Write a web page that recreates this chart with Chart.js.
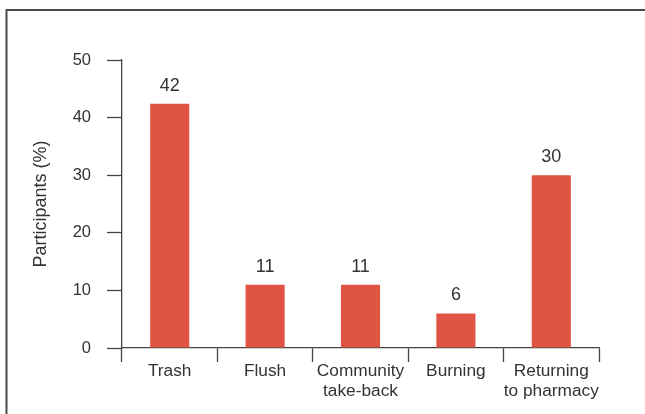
<!DOCTYPE html>
<html>
<head>
<meta charset="utf-8">
<script src="https://cdn.jsdelivr.net/npm/chart.js@4.4.1/dist/chart.umd.min.js"></script>
<style>
  html, body { margin: 0; padding: 0; background: #fff; overflow: hidden; }
  #wrap { position: relative; width: 645px; height: 414px; }
</style>
</head>
<body>
<div id="wrap"><canvas id="chart"></canvas></div>
<script>
const categories = ['Trash', 'Flush', ['Community', 'take-back'], 'Burning', ['Returning', 'to pharmacy']];
const participants = [42.4, 11, 11, 6, 30];
const yTicks = [0, 10, 20, 30, 40, 50];

const textColor = '#333';
const lineColor = '#444';
const font = 'Liberation Sans, Arial, Helvetica, sans-serif';

// frame along the top and left edge
const framePlugin = {
  id: 'frame',
  beforeDraw(chart) {
    const ctx = chart.ctx;
    ctx.save();
    ctx.strokeStyle = '#4a4a4a';
    ctx.lineWidth = 2;
    ctx.beginPath();
    ctx.moveTo(6.5, chart.height);
    ctx.lineTo(6.5, 10);
    ctx.lineTo(chart.width, 10);
    ctx.stroke();
    ctx.restore();
  }
};

// value labels above each bar
const valueLabels = {
  id: 'valueLabels',
  afterDatasetsDraw(chart) {
    const ctx = chart.ctx;
    const meta = chart.getDatasetMeta(0);
    ctx.save();
    ctx.fillStyle = textColor;
    ctx.font = '18px ' + font;
    ctx.textAlign = 'center';
    ctx.textBaseline = 'alphabetic';
    meta.data.forEach((bar, i) => {
      ctx.fillText(String(Math.round(participants[i])), bar.x, bar.y - 13);
    });
    ctx.restore();
  }
};

new Chart(document.getElementById('chart'), {
  type: 'bar',
  data: {
    labels: categories,
    datasets: [{
      data: participants,
      backgroundColor: '#e05444',
      borderWidth: 0,
      categoryPercentage: 1,
      barPercentage: 0.41
    }]
  },
  plugins: [framePlugin, valueLabels],
  options: {
    responsive: true,
    maintainAspectRatio: false,
    animation: false,
    layout: { padding: { left: 20, right: 46, top: 60, bottom: 0 } },
    plugins: {
      legend: { display: false },
      tooltip: { enabled: false }
    },
    scales: {
      x: {
        grid: {
          display: true,
          offset: true,
          drawOnChartArea: false,
          drawTicks: true,
          tickLength: 14,
          tickWidth: 1.3,
          tickColor: lineColor
        },
        border: { display: true, color: lineColor, width: 1.3 },
        ticks: {
          color: textColor,
          font: { family: font, size: 17.3, lineHeight: 1.16 },
          padding: -1,
          maxRotation: 0,
          autoSkip: false
        },
        afterFit(scale) { scale.height = 66; }
      },
      y: {
        min: 0,
        max: 50,
        afterBuildTicks(scale) { scale.ticks = yTicks.map(v => ({ value: v })); },
        grid: {
          display: true,
          drawOnChartArea: false,
          drawTicks: true,
          tickLength: 15,
          tickWidth: 1.3,
          tickColor: lineColor
        },
        border: { display: true, color: lineColor, width: 1.3 },
        ticks: {
          color: textColor,
          font: { family: font, size: 16.5 },
          padding: 16
        },
        title: {
          display: true,
          text: 'Participants (%)',
          color: textColor,
          font: { family: font, size: 18 },
          padding: { top: 10, bottom: 0 }
        },
        afterFit(scale) { scale.width = 102; }
      }
    }
  }
});
</script>
</body>
</html>
